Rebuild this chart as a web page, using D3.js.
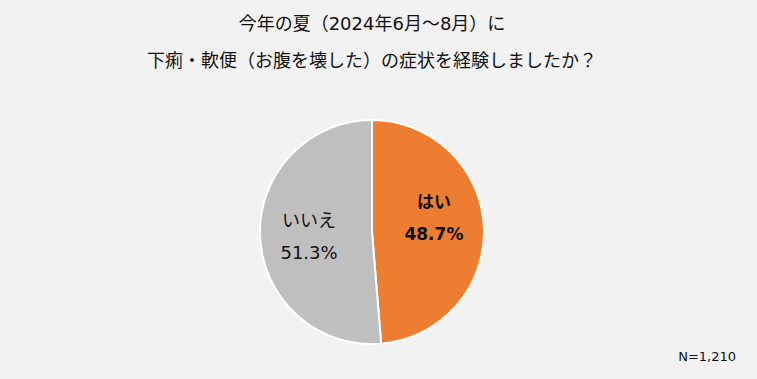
<!DOCTYPE html>
<html><head><meta charset="utf-8">
<script src="https://cdn.jsdelivr.net/npm/d3@7"></script>
<style>html,body{margin:0;padding:0;background:#f2f2f2;}</style>
</head><body>
<svg id="c" width="757" height="379"></svg>
<script>
const categories = ["はい", "いいえ"];
const values = [48.7, 51.3];
const titleLines = ["今年の夏（2024年6月～8月）に", "下痢・軟便（お腹を壊した）の症状を経験しましたか？"];
const note = "N=1,210";

const colors = ["#ED7D31", "#BFBFBF"];
const font = "'DejaVu Sans', 'Noto Sans CJK JP', sans-serif";
const svg = d3.select("#c");
svg.append("rect").attr("width", 757).attr("height", 379).attr("fill", "#f2f2f2");

svg.selectAll("text.title").data(titleLines).join("text")
  .attr("class", "title")
  .attr("x", 372).attr("y", (d, i) => 30 + i * 37)
  .attr("text-anchor", "middle")
  .attr("font-family", font).attr("font-size", 18).attr("fill", "#111")
  .text(d => d);

const cx = 372, cy = 232, R = 112;
const data = categories.map((c, i) => ({ cat: c, value: values[i] }));
const pie = d3.pie().sort(null).value(d => d.value);
const arcs = pie(data);
const arc = d3.arc().innerRadius(0).outerRadius(R);
const labelArc = d3.arc().innerRadius(62).outerRadius(62);

const g = svg.append("g").attr("transform", `translate(${cx},${cy})`);
g.selectAll("path").data(arcs).join("path")
  .attr("d", arc)
  .attr("fill", (d, i) => colors[i])
  .attr("stroke", "#fff").attr("stroke-width", 2);

const shifts = [[0, -12], [-1, 1]];
const bold = [true, false];
arcs.forEach((a, i) => {
  const [x, y] = labelArc.centroid(a);
  const t = g.append("text")
    .attr("text-anchor", "middle")
    .attr("font-family", font).attr("font-size", bold[i] ? 17 : 18)
    .attr("font-weight", bold[i] ? "bold" : "normal")
    .attr("fill", "#111");
  t.append("tspan").attr("x", x + shifts[i][0]).attr("y", y + shifts[i][1] - 9).text(a.data.cat);
  t.append("tspan").attr("x", x + shifts[i][0]).attr("y", y + shifts[i][1] + 23)
    .text(a.data.value.toFixed(1) + "%");
});

svg.append("text").attr("x", 736).attr("y", 361).attr("text-anchor", "end")
  .attr("font-family", font).attr("font-size", 13).attr("fill", "#111").text(note);
</script>
</body></html>
